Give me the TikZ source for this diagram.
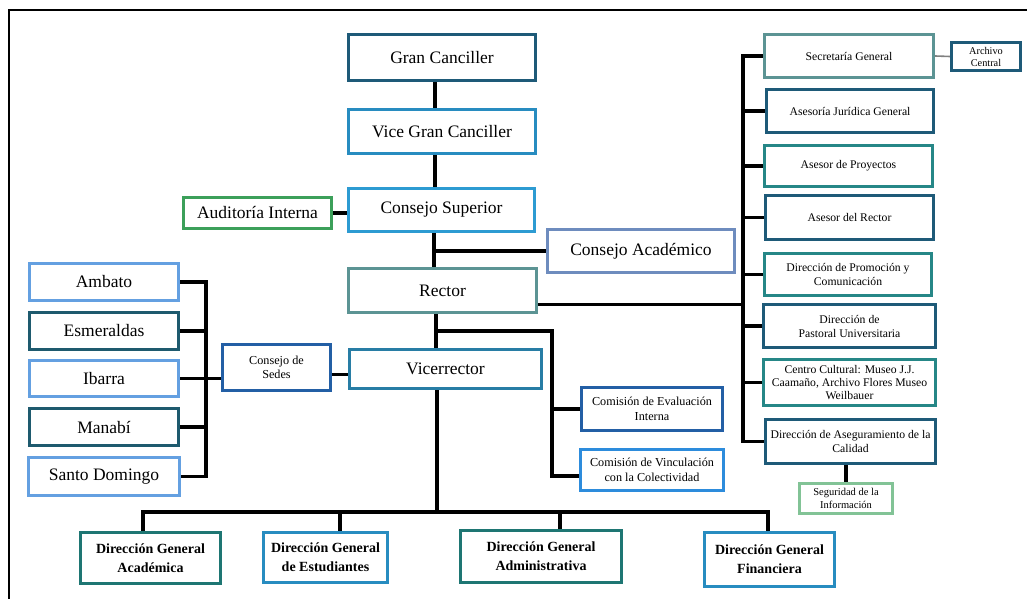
\documentclass[tikz,border=0pt]{standalone}
\usepackage{fontspec}
\setmainfont{Liberation Serif}
\usetikzlibrary{backgrounds}
\definecolor{cdark}{RGB}{30,90,120}
\definecolor{cblue}{RGB}{40,140,192}
\definecolor{clblue}{RGB}{45,155,210}
\definecolor{cgreen}{RGB}{60,160,90}
\definecolor{cgteal}{RGB}{92,148,148}
\definecolor{csteel}{RGB}{110,140,190}
\definecolor{cteal}{RGB}{38,135,135}
\definecolor{cpale}{RGB}{130,195,150}
\definecolor{csky}{RGB}{100,160,225}
\definecolor{cdteal}{RGB}{30,90,110}
\definecolor{cnavy}{RGB}{35,95,165}
\definecolor{cvic}{RGB}{40,125,165}
\definecolor{cbright}{RGB}{45,140,220}
\definecolor{cdgteal}{RGB}{30,118,115}
\tikzset{
  box/.style={draw, line width=3.3pt, fill=white, align=center, inner sep=1pt},
  big/.style={box, font=\fontsize{17.5}{19}\selectfont},
  small/.style={box, font=\fontsize{11.7}{14}\selectfont},
  mid/.style={box, font=\fontsize{12.2}{14.5}\selectfont},
  tiny/.style={box, line width=2.8pt, font=\fontsize{10.3}{12}\selectfont},
  dg/.style={box, font=\bfseries\fontsize{14}{19}\selectfont},
  conn/.style={line width=3.3pt, black},
  frame/.style={line width=1.8pt, black}
}
\begin{document}
\begin{tikzpicture}[x=1pt,y=-1pt]
\useasboundingbox (0,0) rectangle (1027,599);

% central column
\node[big, draw=cdark, minimum width=187pt, minimum height=46pt] (gc) at (442,57.5) {Gran Canciller};
\node[big, draw=cblue, minimum width=187pt, minimum height=44pt] (vgc) at (442,131.5) {Vice Gran Canciller};
\node[big, draw=clblue, minimum width=186pt, minimum height=43pt] (cs) at (441.5,210) {Consejo Superior};
\node[big, draw=cgreen, minimum width=148pt, minimum height=31pt] (ai) at (257.5,213) {Auditoría Interna};
\node[big, draw=cgteal, minimum width=188pt, minimum height=44pt] (rector) at (442.5,290.5) {Rector};
\node[big, draw=csteel, minimum width=187pt, minimum height=43pt] (ca) at (641,251) {Consejo Académico};
\node[big, draw=cvic, minimum width=192pt, minimum height=39pt] (vic) at (445.5,369) {Vicerrector};

% right column
\node[small, draw=cgteal, minimum width=169pt, minimum height=43pt] (sec) at (849,56) {Secretaría General};
\node[tiny, draw=cdark, minimum width=69pt, minimum height=28pt] (arch) at (986,56.5) {Archivo\\Central};
\node[small, draw=cdark, minimum width=167pt, minimum height=43pt] (aj) at (850,111) {Asesoría Jurídica General};
\node[small, draw=cteal, minimum width=168pt, minimum height=41pt] (ap) at (848.5,166) {Asesor de Proyectos};
\node[small, draw=cdark, minimum width=168pt, minimum height=44pt] (ar) at (849.5,217.5) {Asesor del Rector};
\node[small, draw=cteal, minimum width=167pt, minimum height=42pt] (dpc) at (848,274.5) {Dirección de Promoción y\\Comunicación};
\node[small, draw=cdark, minimum width=172pt, minimum height=43pt] (dpu) at (849.5,326) {Dirección de\\Pastoral Universitaria};
\node[small, draw=cteal, minimum width=172pt, minimum height=46pt, font=\fontsize{11.7}{13.3}\selectfont] (cc) at (849.5,382.5) {Centro Cultural: Museo J.J.\\Caamaño, Archivo Flores Museo\\Weilbauer};
\node[small, draw=cdark, minimum width=170pt, minimum height=44pt] (aseg) at (850.5,441.5) {Dirección de Aseguramiento de la\\Calidad};
\node[tiny, draw=cpale, minimum width=93pt, minimum height=30pt, font=\fontsize{10.5}{13}\selectfont] (seg) at (846,498.5) {Seguridad de la\\Información};

% left column
\node[big, draw=csky, minimum width=149pt, minimum height=37pt] (amb) at (104,282) {Ambato};
\node[big, draw=cdteal, minimum width=149pt, minimum height=37pt] (esm) at (104,331) {Esmeraldas};
\node[big, draw=csky, minimum width=149pt, minimum height=36pt] (iba) at (104,378.5) {Ibarra};
\node[big, draw=cdteal, minimum width=149pt, minimum height=37pt] (man) at (104,427) {Manabí};
\node[big, draw=csky, minimum width=151pt, minimum height=38pt] (sdo) at (104,476.5) {Santo Domingo};
\node[mid, draw=cnavy, minimum width=108pt, minimum height=46pt] (sedes) at (276.5,367.5) {Consejo de\\Sedes};

% commissions
\node[mid, draw=cnavy, minimum width=141pt, minimum height=43pt] (eval) at (652,409) {Comisión de Evaluación\\Interna};
\node[mid, draw=cbright, minimum width=143pt, minimum height=41pt] (vinc) at (652,470) {Comisión de Vinculación\\con la Colectividad};

% bottom
\node[dg, draw=cdgteal, minimum width=140pt, minimum height=51pt] (dga) at (150.5,558) {Dirección General\\Académica};
\node[dg, draw=cblue, minimum width=124pt, minimum height=50pt] (dge) at (325.5,557.5) {Dirección General\\de Estudiantes};
\node[dg, draw=cdgteal, minimum width=161pt, minimum height=52pt] (dgad) at (541,556.5) {Dirección General\\Administrativa};
\node[dg, draw=cblue, minimum width=130pt, minimum height=54pt] (dgf) at (769.5,559.5) {Dirección General\\Financiera};

\coordinate (rs) at (743,0);
\coordinate (ls) at (206,0);
\coordinate (rj) at (436,331);
\coordinate (cj) at (552,331);
\coordinate (bus) at (0,512);

\begin{scope}[on background layer]
\fill[white] (0,0) rectangle (1027,599);
\draw[frame] (9,599) -- (9,10) -- (1027,10);
\draw[conn] ([xshift=-7pt]gc.south) -- ([xshift=-7pt]gc.south |- vgc.north);
\draw[conn] ([xshift=-7pt]vgc.south) -- ([xshift=-7pt]vgc.south |- cs.north);
\draw[conn] (ai.east) -- (ai.east -| cs.west);
\draw[conn] ([xshift=-7.5pt]cs.south) -- ([xshift=-7.5pt]cs.south |- rector.north);
\draw[conn] (ca.west) -- ([xshift=-7.5pt]cs.south |- ca.west);
% right spine
\draw[conn] (sec.west) -- (sec.west -| rs) -- (aseg.west -| rs) -- (aseg.west);
\foreach \n in {aj,ap,ar,dpc,dpu,cc} \draw[conn] (\n.west) -- (\n.west -| rs);
\draw[conn] ([yshift=-14pt]rector.east) -- ([yshift=-14pt]rector.east -| rs);
\draw[line width=1.6pt, gray] (sec.east) -- (arch.west);
\draw[conn] (aseg.south -| seg.north) -- (seg.north);
% left spine
\draw[conn] (amb.east) -- (amb.east -| ls) -- (sdo.east -| ls) -- (sdo.east);
\foreach \n in {esm,man} \draw[conn] (\n.east) -- (\n.east -| ls);
\draw[conn] (iba.east) -- (iba.east -| sedes.west);
\draw[conn] ([yshift=-7pt]sedes.east) -- ([yshift=-7pt]sedes.east -| vic.west);
% rector to vicerrector and commissions
\draw[conn] ([xshift=-6.5pt]rector.south) -- ([xshift=-6.5pt]rector.south |- vic.north);
\draw[conn] (rj) -- (cj) -- ([yshift=-6pt]cj |- vinc.west) -- ([yshift=-6pt]vinc.west);
\draw[conn] (eval.west) -- (eval.west -| cj);
% bottom bus
\draw[conn] ([xshift=-8.5pt]vic.south) -- ([xshift=-8.5pt]vic.south |- bus);
\draw[conn] ([xshift=-7.5pt]dga.north) -- ([xshift=-7.5pt]dga.north |- bus) -- ([xshift=-1.5pt]dgf.north |- bus) -- ([xshift=-1.5pt]dgf.north);
\draw[conn] ([xshift=14.5pt]dge.north) -- ([xshift=14.5pt]dge.north |- bus);
\draw[conn] ([xshift=19pt]dgad.north) -- ([xshift=19pt]dgad.north |- bus);
\end{scope}
\end{tikzpicture}
\end{document}
